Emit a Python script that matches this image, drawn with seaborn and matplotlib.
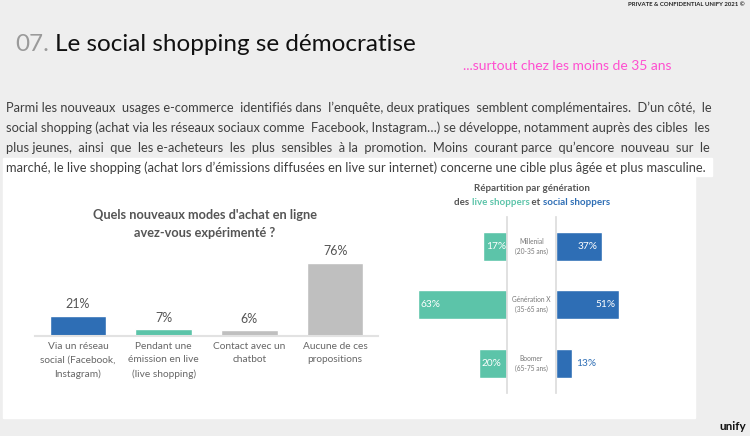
import seaborn as sns
import pandas as pd
from matplotlib import pyplot as plt
from matplotlib.patches import Rectangle

# données du graphique de gauche
modes = ['Via un réseau\nsocial (Facebook,\nInstagram)', 'Pendant une\némission en live\n(live shopping)',
         'Contact avec un\nchatbot', 'Aucune de ces\npropositions']
modes_pct = [21, 7, 6, 76]
modes_colors = ['#2e6eb5', '#5cc4a9', '#bfbfbf', '#bfbfbf']

# données du graphique de droite
generations = ['Millenial\n(20-35 ans)', 'Génération X\n(35-65 ans)', 'Boomer\n(65-75 ans)']
live_pct = [17, 63, 20]
social_pct = [37, 51, 13]

paragraph = [
    "Parmi les nouveaux usages e-commerce identifiés dans l’enquête, deux pratiques semblent complémentaires. D’un côté, le",
    "social shopping (achat via les réseaux sociaux comme Facebook, Instagram…) se développe, notamment auprès des cibles les",
    "plus jeunes, ainsi que les e-acheteurs les plus sensibles à la promotion. Moins courant parce qu’encore nouveau sur le",
    "marché, le live shopping (achat lors d’émissions diffusées en live sur internet) concerne une cible plus âgée et plus masculine.",
]

TEAL = '#5cc4a9'
BLUE = '#2e6eb5'
W, H = 750, 436

sns.set_theme(style='white')
plt.rcParams['font.family'] = ['Lato', 'DejaVu Sans']

fig = plt.figure(figsize=(W / 100, H / 100), dpi=100, facecolor='#eeeeee')
renderer = fig.canvas.get_renderer()


def fx(x):
    return x / W


def fy(y):
    return 1 - y / H


def px_axes(left, top, right, bottom):
    return fig.add_axes([fx(left), fy(bottom), (right - left) / W, (bottom - top) / H])


def text_w(t):
    return t.get_window_extent(renderer).width


# fonds blancs
fig.patches.append(Rectangle((fx(3), fy(176)), (712 - 3) / W, 18 / H, transform=fig.transFigure,
                             color='white', zorder=-5))
fig.patches.append(Rectangle((fx(3), fy(418)), (695 - 3) / W, (418 - 175) / H, transform=fig.transFigure,
                             color='white', zorder=-5))

# en-tête
fig.text(fx(745), fy(5), 'PRIVATE & CONFIDENTIAL UNIFY 2021 ©', ha='right', va='center',
         fontsize=4.3, fontweight='bold', color='#222222')
t07 = fig.text(fx(15), fy(51), '07.', ha='left', va='baseline', fontsize=17.5, color='#9a9a9a')
fig.text(fx(15) + (text_w(t07) + 6) / W, fy(51), 'Le social shopping se démocratise', ha='left',
         va='baseline', fontsize=17.5, color='#111111')
fig.text(fx(463), fy(66), '...surtout chez les moins de 35 ans', ha='left', va='center',
         fontsize=10, color='#ff4fd0')

# paragraphe justifié (espaces ajoutés entre les mots, sauf la dernière ligne)
x0, x1 = 6, 711
probe = fig.text(0, 0, '', fontsize=10)
natural = []
for line in paragraph:
    probe.set_text(line)
    natural.append(text_w(probe))
fs = 10 * (x1 - x0) / max(natural)
probe.set_fontsize(fs)
probe.set_text('a a')
wa = text_w(probe)
probe.set_text('aa')
space_w = wa - text_w(probe)
probe.remove()
for i, line in enumerate(paragraph):
    words = line.split(' ')
    t = fig.text(fx(x0), fy(112 + i * 20), line, ha='left', va='baseline', fontsize=fs, color='#404040')
    if i == len(paragraph) - 1:
        continue
    extra = int(round((x1 - x0 - text_w(t)) / space_w))
    gaps = len(words) - 1
    if extra > 0:
        out = words[0]
        for k, w in enumerate(words[1:]):
            n = 1 + (extra * (k + 1)) // gaps - (extra * k) // gaps
            out += ' ' * n + w
        t.set_text(out)

# graphique de gauche
df_modes = pd.DataFrame({'mode': modes, 'pct': modes_pct})
ax = px_axes(35, 336 - 80 * 0.96, 378, 336)
sns.barplot(data=df_modes, x='mode', y='pct', hue='mode', palette=modes_colors, legend=False,
            width=0.66, ax=ax, saturation=1)
ax.set_ylim(0, 80)
ax.set_xlim(-0.5, 3.5)
for c in ax.containers:
    ax.bar_label(c, fmt='%d%%', padding=4, fontsize=9, color='#555555')
ax.set_xlabel('')
ax.set_ylabel('')
ax.set_yticks([])
ax.tick_params(axis='x', length=0, pad=4, labelsize=7.3, labelcolor='#666666')
for lab in ax.get_xticklabels():
    lab.set_linespacing(1.65)
ax.set_facecolor('none')
sns.despine(ax=ax, left=True, top=True, right=True)
ax.spines['bottom'].set_color('#e2e2e2')
ax.spines['bottom'].set_linewidth(1.5)

fig.text(fx(205), fy(215), 'Quels nouveaux modes d\'achat en ligne', ha='center', va='center',
         fontsize=9.2, fontweight='bold', color='#555555')
fig.text(fx(205), fy(233), 'avez-vous expérimenté ?', ha='center', va='center',
         fontsize=9.2, fontweight='bold', color='#555555')

# graphique de droite
df_gen = pd.DataFrame({'gen': generations, 'live': live_pct, 'social': social_pct})
ax_l = px_axes(507 - 70 * 1.42, 217, 507, 392.5)
ax_r = px_axes(556, 217, 556 + 70 * 1.24, 392.5)
sns.barplot(data=df_gen, x='live', y='gen', orient='h', color=TEAL, width=0.5, ax=ax_l, saturation=1)
sns.barplot(data=df_gen, x='social', y='gen', orient='h', color=BLUE, width=0.5, ax=ax_r, saturation=1)
ax_l.set_xlim(70, 0)
ax_r.set_xlim(0, 70)
for a in (ax_l, ax_r):
    a.set_xlabel('')
    a.set_ylabel('')
    a.set_xticks([])
    a.set_yticks([])
    a.set_facecolor('none')
    for s in a.spines.values():
        s.set_visible(False)
ax_l.spines['right'].set_visible(True)
ax_l.spines['right'].set_color('#dddddd')
ax_r.spines['left'].set_visible(True)
ax_r.spines['left'].set_color('#dddddd')

for i, v in enumerate(live_pct):
    ax_l.annotate(f'{v}%', (v, i), xytext=(3, 0), textcoords='offset pixels', ha='left', va='center',
                  fontsize=7.3, color='white')
for i, v in enumerate(social_pct):
    if v >= 20:
        ax_r.annotate(f'{v}%', (v, i), xytext=(-4, 0), textcoords='offset pixels', ha='right',
                      va='center', fontsize=7.3, color='white')
    else:
        ax_r.annotate(f'{v}%', (v, i), xytext=(4, 0), textcoords='offset pixels', ha='left',
                      va='center', fontsize=7.3, color=BLUE)
for i, g in enumerate(generations):
    ax_r.annotate(g, (0, i), xytext=(-24.5, 0), textcoords='offset pixels', ha='center', va='center',
                  fontsize=4.8, color='#777777', linespacing=1.5)

fig.text(fx(532), fy(188), 'Répartition par génération', ha='center', va='center',
         fontsize=7, fontweight='bold', color='#555555')
parts = [('des ', '#555555'), ('live shoppers', TEAL), (' et ', '#555555'), ('social shoppers', BLUE)]
ptexts = [fig.text(0, fy(202), p, ha='left', va='center', fontsize=7, fontweight='bold', color=c)
          for p, c in parts]
pw = [text_w(t) for t in ptexts]
x = 532 - sum(pw) / 2
for t, w in zip(ptexts, pw):
    t.set_x(fx(x))
    x += w

# logo
fig.text(fx(746), fy(426), 'unify', ha='right', va='center', fontsize=8.5, fontweight='bold', color='#111111')

fig.savefig('out.png', dpi=100, facecolor=fig.get_facecolor())
